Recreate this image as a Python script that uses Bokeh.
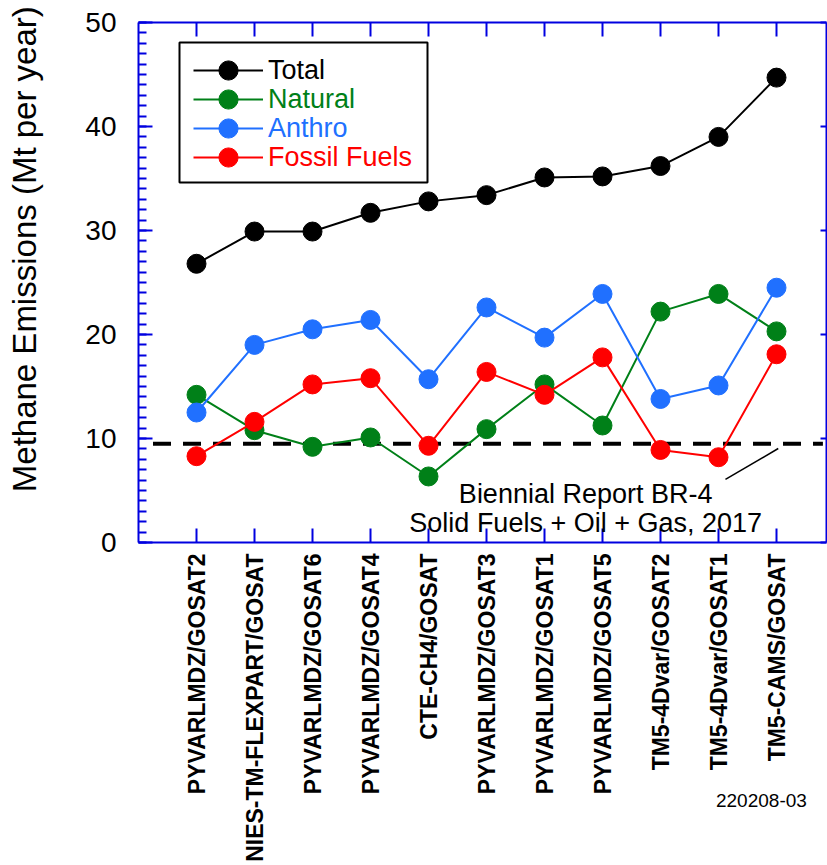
import math
from bokeh.plotting import figure
from bokeh.models import (Range1d, FixedTicker, LinearAxis, Legend, LegendItem,
                          Label, ColumnDataSource, BoxAnnotation, Arrow,
                          CustomLabelingPolicy)
from bokeh.embed import file_html
from bokeh.resources import INLINE

# ---------------- data ----------------
models = ["PYVARLMDZ/GOSAT2", "NIES-TM-FLEXPART/GOSAT", "PYVARLMDZ/GOSAT6",
          "PYVARLMDZ/GOSAT4", "CTE-CH4/GOSAT", "PYVARLMDZ/GOSAT3",
          "PYVARLMDZ/GOSAT1", "PYVARLMDZ/GOSAT5", "TM5-4Dvar/GOSAT2",
          "TM5-4Dvar/GOSAT1", "TM5-CAMS/GOSAT"]
total = [26.8, 29.9, 29.9, 31.7, 32.8, 33.4, 35.1, 35.2, 36.2, 39.0, 44.7]
natural = [14.2, 10.8, 9.2, 10.1, 6.35, 10.9, 15.2, 11.25, 22.2, 23.9, 20.3]
anthro = [12.5, 19.0, 20.5, 21.4, 15.7, 22.6, 19.7, 23.9, 13.8, 15.1, 24.5]
fossil = [8.3, 11.6, 15.2, 15.8, 9.3, 16.4, 14.2, 17.8, 8.9, 8.2, 18.1]
br4_value = 9.5
y_major = [0, 10, 20, 30, 40, 50]
y_minor = list(range(0, 51))
series_names = ["Total", "Natural", "Anthro", "Fossil Fuels"]
br4_lines = ["Biennial Report BR-4", "Solid Fuels + Oil + Gas, 2017"]
fig_id = "220208-03"

positions = list(range(1, len(models) + 1))

# ---------------- layout geometry (pixels) ----------------
W, H = 827, 865
X0_PX, Y0_PX = 138, 542      # where data (0, 0) sits on the canvas
SX, SY = 58.0, 10.4          # pixels per data unit
X_END = 11.862               # right edge of the plotting box (data)
Y_END = 50

AXIS = "#0000E0"
COLORS = ["#000000", "#008018", "#2070FF", "#FF0000"]
FONT = "Liberation Sans"

x_range = Range1d(-X0_PX / SX, (W - X0_PX) / SX)
y_range = Range1d((Y0_PX - H) / SY, Y0_PX / SY)

p = figure(width=W, height=H, output_backend="svg", toolbar_location=None,
           x_range=x_range, y_range=y_range, min_border=0,
           background_fill_color="white", border_fill_color="white",
           outline_line_color=None)
p.xgrid.visible = False
p.ygrid.visible = False

hide_all = CustomLabelingPolicy(
    code="for (const i of indices) { indices.unset(i) } return indices")


def style_axis(ax, ticks, tin, loc, bounds, minor=None, minor_in=0):
    ax.fixed_location = loc
    ax.bounds = bounds
    ax.ticker = FixedTicker(ticks=ticks, minor_ticks=minor or [])
    ax.axis_line_color = AXIS
    ax.axis_line_width = 2
    ax.major_tick_line_color = AXIS
    ax.major_tick_line_width = 2
    ax.major_tick_in = tin
    ax.major_tick_out = 0
    ax.minor_tick_line_color = AXIS if minor else None
    ax.minor_tick_line_width = 2
    ax.minor_tick_in = minor_in
    ax.minor_tick_out = 0


# left axis with value labels
left = p.yaxis[0]
style_axis(left, y_major, 14, 0, (0, Y_END), y_minor, 8)
left.major_label_text_font = FONT
left.major_label_text_font_size = "28px"
left.major_label_text_color = "black"
left.major_label_standoff = 22

# bottom axis with the model names
bottom = p.xaxis[0]
style_axis(bottom, positions, 14, 0, (0, X_END))
bottom.major_label_overrides = {pos: name for pos, name in zip(positions, models)}
bottom.major_label_orientation = math.pi / 2
bottom.major_label_text_font = FONT
bottom.major_label_text_font_style = "bold"
bottom.major_label_text_font_size = "23px"
bottom.major_label_text_color = "black"
bottom.major_label_standoff = 11

# right and top frame axes (no labels)
right = LinearAxis()
style_axis(right, y_major, 6, X_END, (0, Y_END))
right.major_label_policy = hide_all
p.add_layout(right, "right")

top = LinearAxis()
style_axis(top, positions, 14, Y_END, (0, X_END))
top.major_label_policy = hide_all
p.add_layout(top, "above")

# reference line (BR-4)
p.line([0.25, 11.8], [br4_value, br4_value], line_color="black", line_width=4,
       line_dash="18 12")

renderers = []
for vals, col in zip([total, natural, anthro, fossil], COLORS):
    src = ColumnDataSource(dict(x=positions, y=vals))
    l = p.line("x", "y", source=src, line_color=col, line_width=2)
    s = p.scatter("x", "y", source=src, size=19, fill_color=col, line_color=col)
    renderers.append((l, s))

# legend box
p.add_layout(BoxAnnotation(left=(179 - X0_PX) / SX, right=(427 - X0_PX) / SX,
                           top=(Y0_PX - 42) / SY, bottom=(Y0_PX - 182) / SY,
                           fill_color="white", fill_alpha=1.0,
                           line_color="black", line_width=2, line_alpha=1.0))

for i, (name, col, (l, s)) in enumerate(zip(series_names, COLORS, renderers)):
    center = 70 + 29 * i
    lg = Legend(items=[LegendItem(label=name, renderers=[l, s])],
                location=(193, H - (center + 24)),
                glyph_width=70, glyph_height=48, padding=0, margin=0,
                label_standoff=5, label_text_font=FONT,
                label_text_font_size="27px", label_text_color=col,
                border_line_color=None, background_fill_alpha=0.0)
    p.add_layout(lg)

# y axis title
p.add_layout(Label(x=(24 - X0_PX) / SX, y=28.2, text="Methane Emissions (Mt per year)",
                   angle=math.pi / 2, text_align="center",
                   text_baseline="middle", text_font=FONT,
                   text_font_size="33px", text_color="black"))

# BR-4 annotation
p.add_layout(Label(x=7.71, y=4.71, text=br4_lines[0], text_align="center",
                   text_baseline="alphabetic", text_font=FONT,
                   text_font_size="27px", text_color="black"))
p.add_layout(Label(x=7.71, y=1.83, text=br4_lines[1], text_align="center",
                   text_baseline="alphabetic", text_font=FONT,
                   text_font_size="27px", text_color="black"))
p.add_layout(Arrow(end=None, x_start=10.12, y_start=6.06, x_end=11.03,
                   y_end=9.04, line_color="black", line_width=1.5))

p.add_layout(Label(x=10.74, y=-24.8, text=fig_id, text_align="center",
                   text_baseline="alphabetic", text_font=FONT,
                   text_font_size="19px", text_color="black"))

open("out.html", "w").write(file_html(p, INLINE))
